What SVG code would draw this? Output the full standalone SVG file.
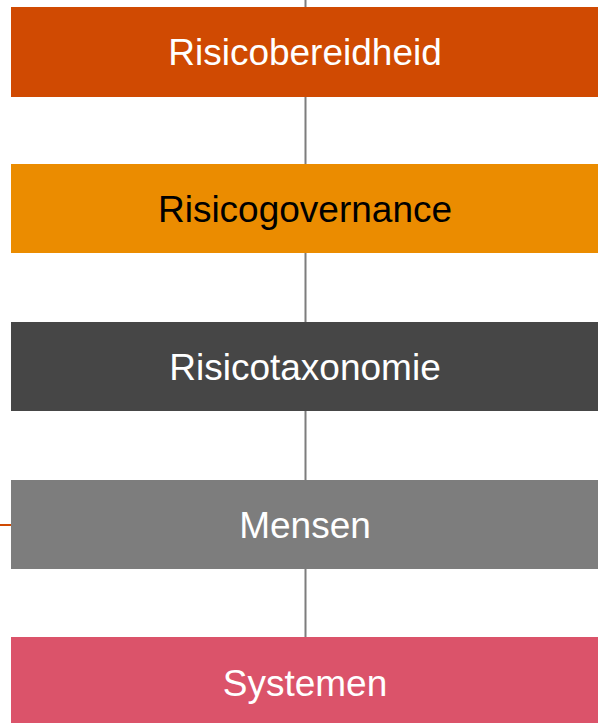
<svg xmlns="http://www.w3.org/2000/svg" width="598" height="723" viewBox="0 0 598 723">
<style>
.lbl{font-family:"Liberation Sans",Arial,sans-serif;font-size:37px;text-anchor:middle}
.w{fill:#ffffff}
.k{fill:#000000}
.conn{stroke:#7d7d7d;stroke-width:2;fill:none}
</style>
<rect width="598" height="723" fill="#ffffff"/>
<g id="connectors">
<line class="conn" x1="305.5" y1="0" x2="305.5" y2="640"/>
<line x1="0" y1="525" x2="11" y2="525" stroke="#d04a02" stroke-width="2"/>
</g>
<g id="risicobereidheid">
<rect x="11" y="7" width="587" height="90" fill="#d04a02"/>
<text class="lbl w" x="305" y="65">Risicobereidheid</text>
</g>
<g id="risicogovernance">
<rect x="11" y="164" width="587" height="89" fill="#eb8c00"/>
<text class="lbl k" x="305" y="222">Risicogovernance</text>
</g>
<g id="risicotaxonomie">
<rect x="11" y="322" width="587" height="89" fill="#464646"/>
<text class="lbl w" x="305" y="380">Risicotaxonomie</text>
</g>
<g id="mensen">
<rect x="11" y="480" width="587" height="89" fill="#7d7d7d"/>
<text class="lbl w" x="305" y="538">Mensen</text>
</g>
<g id="systemen">
<rect x="11" y="637" width="587" height="86" fill="#db536a"/>
<text class="lbl w" x="305" y="696">Systemen</text>
</g>
</svg>
